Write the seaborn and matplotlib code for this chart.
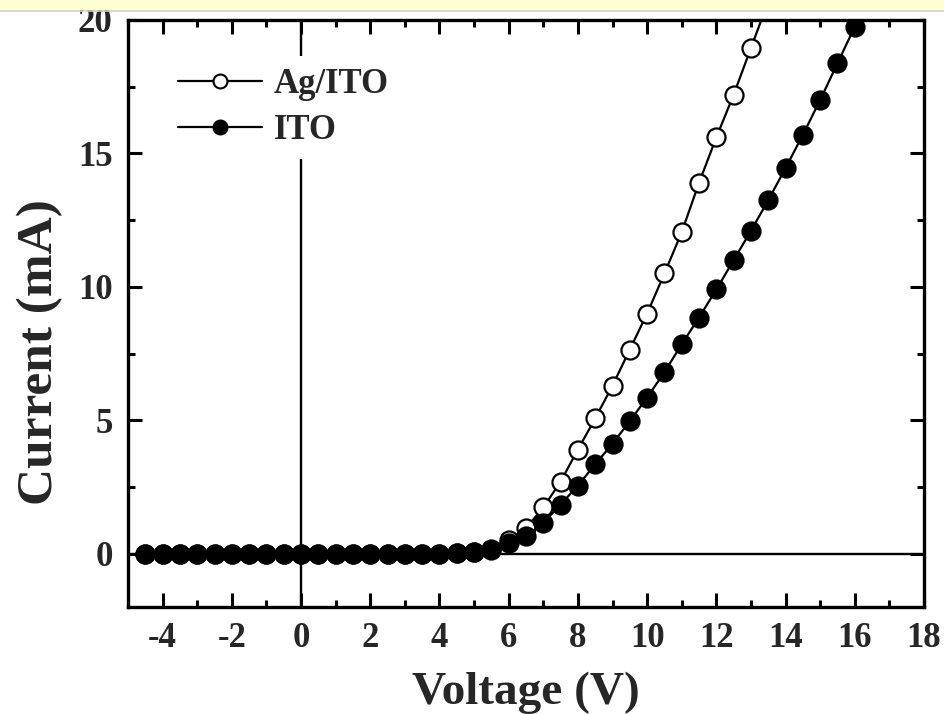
import matplotlib
matplotlib.use("Agg")
import matplotlib.pyplot as plt
from matplotlib.patches import Rectangle
from matplotlib.lines import Line2D
from matplotlib.ticker import MultipleLocator
import seaborn as sns
import pandas as pd

# ---- data ----
v_ag = [-4.5, -4.0, -3.5, -3.0, -2.5, -2.0, -1.5, -1.0, -0.5, 0.0, 0.5, 1.0, 1.5,
        2.0, 2.5, 3.0, 3.5, 4.0, 4.5, 5.0, 5.5, 6.0, 6.5, 7.0, 7.5, 8.0, 8.5, 9.0,
        9.5, 10.0, 10.5, 11.0, 11.5, 12.0, 12.5, 13.0, 13.5]
i_ag = [0, 0, 0, 0, 0, 0, 0, 0, 0, 0, 0, 0, 0,
        0, 0, 0, 0, 0, 0.02, 0.05, 0.18, 0.5, 0.95, 1.73, 2.7, 3.9, 5.07, 6.3,
        7.65, 9.0, 10.5, 12.05, 13.9, 15.6, 17.2, 18.95, 20.7]

v_ito = [-4.5, -4.0, -3.5, -3.0, -2.5, -2.0, -1.5, -1.0, -0.5, 0.0, 0.5, 1.0, 1.5,
         2.0, 2.5, 3.0, 3.5, 4.0, 4.5, 5.0, 5.5, 6.0, 6.5, 7.0, 7.5, 8.0, 8.5, 9.0,
         9.5, 10.0, 10.5, 11.0, 11.5, 12.0, 12.5, 13.0, 13.5, 14.0, 14.5, 15.0,
         15.5, 16.0, 16.5]
i_ito = [0, 0, 0, 0, 0, 0, 0, 0, 0, 0, 0, 0, 0,
         0, 0, 0, 0, 0, 0.02, 0.05, 0.15, 0.38, 0.65, 1.15, 1.84, 2.55, 3.35, 4.12,
         4.97, 5.85, 6.8, 7.85, 8.85, 9.9, 11.0, 12.1, 13.25, 14.45, 15.7, 17.0,
         18.38, 19.75, 21.2]

labels = ["Ag/ITO", "ITO"]
x_ticks = [-4, -2, 0, 2, 4, 6, 8, 10, 12, 14, 16, 18]
y_ticks = [0, 5, 10, 15, 20]

df_ag = pd.DataFrame({"V": v_ag, "I": i_ag})
df_ito = pd.DataFrame({"V": v_ito, "I": i_ito})

sns.set_theme(style="ticks")
plt.rcParams["font.family"] = ["Liberation Serif", "DejaVu Serif"]
plt.rcParams["font.weight"] = "bold"
plt.rcParams["axes.unicode_minus"] = False

fig = plt.figure(figsize=(9.45, 7.14), dpi=100)
ax = fig.add_axes([128 / 945, 1 - 607 / 714, (924 - 128) / 945, (607 - 20) / 714])

ax.axhline(0, color="black", lw=1.7, zorder=1)
ax.axvline(0, color="black", lw=1.7, zorder=1)

ms = 13
sns.lineplot(data=df_ag, x="V", y="I", ax=ax, sort=False, estimator=None,
             color="black", lw=1.6, marker="o", markersize=ms,
             markerfacecolor="white", markeredgecolor="black", markeredgewidth=1.6,
             zorder=3)
sns.lineplot(data=df_ito, x="V", y="I", ax=ax, sort=False, estimator=None,
             color="black", lw=1.6, marker="o", markersize=ms,
             markerfacecolor="black", markeredgecolor="black", markeredgewidth=1.6,
             zorder=4)

ax.set_xlim(-5, 18)
ax.set_ylim(-2, 20)
ax.set_xticks(x_ticks)
ax.set_yticks(y_ticks)
ax.xaxis.set_minor_locator(MultipleLocator(1))
ax.yaxis.set_minor_locator(MultipleLocator(2.5))
ax.tick_params(which="both", direction="in", top=True, right=True, width=2.2,
               labelsize=25, pad=11, color="black")
ax.tick_params(which="major", length=10)
ax.tick_params(which="minor", length=5)
for lab in ax.get_xticklabels() + ax.get_yticklabels():
    lab.set_fontweight("bold")
for s in ax.spines.values():
    s.set_linewidth(2.4)
    s.set_color("black")

ax.set_xlabel("Voltage (V)", fontsize=34, fontweight="bold")
ax.set_ylabel("Current (mA)", fontsize=37, fontweight="bold")
ax.xaxis.label.set_va("center")
ax.yaxis.label.set_va("center")
ax.xaxis.set_label_coords(0.5, -0.147)
ax.yaxis.set_label_coords(-0.11, 0.434)

handles = [
    Line2D([], [], color="black", lw=1.6, marker="o", markersize=10,
           markerfacecolor="white", markeredgecolor="black", markeredgewidth=1.5),
    Line2D([], [], color="black", lw=1.6, marker="o", markersize=10,
           markerfacecolor="black", markeredgecolor="black", markeredgewidth=1.5),
]
leg = ax.legend(handles, labels, loc="upper left", bbox_to_anchor=(0.048, 0.939),
                frameon=True, fancybox=False, edgecolor="none", facecolor="white",
                framealpha=1, prop={"family": "Liberation Serif", "weight": "bold", "size": 25},
                handlelength=2.4, handletextpad=0.35, labelspacing=0.37,
                borderpad=0.35, borderaxespad=0)
leg.set_zorder(5)

# yellow strip at the top of the picture
fig.add_artist(Rectangle((0, 1 - 10 / 714), 1, 10 / 714, transform=fig.transFigure,
                         facecolor="#FFFDD2", edgecolor="none", zorder=20))
fig.add_artist(Line2D([0, 1], [1 - 10.5 / 714, 1 - 10.5 / 714], transform=fig.transFigure,
                      color="#CFCFCF", lw=1.2, zorder=21))

fig.savefig("out.png", dpi=100)
